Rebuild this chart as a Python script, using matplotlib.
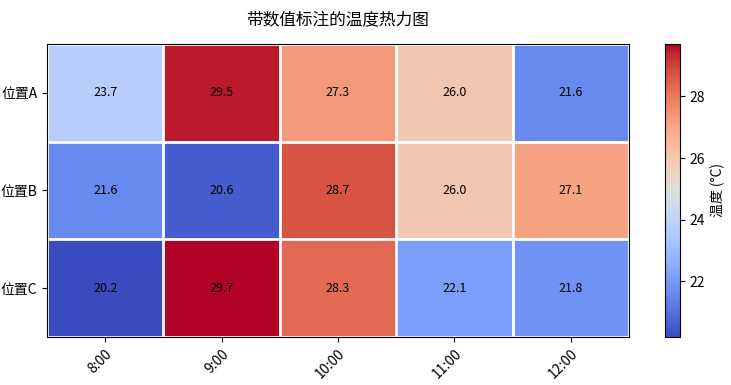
import numpy as np
import matplotlib
matplotlib.use("Agg")
import matplotlib.pyplot as plt

plt.rcParams['font.family'] = ['Noto Sans CJK SC', 'DejaVu Sans']

locations = ["位置A", "位置B", "位置C"]
times = ["8:00", "9:00", "10:00", "11:00", "12:00"]
temps_a = [23.7, 29.5, 27.3, 26.0, 21.6]
temps_b = [21.6, 20.6, 28.7, 26.0, 27.1]
temps_c = [20.2, 29.7, 28.3, 22.1, 21.8]

data = np.array([temps_a, temps_b, temps_c])

fig = plt.figure(figsize=(7.31, 3.85), dpi=100)
ax = fig.add_axes([0.0643, 0.1247, 0.796, 0.761])
cax = fig.add_axes([0.9097, 0.1247, 0.0205, 0.761])

im = ax.imshow(data, cmap="coolwarm", aspect="auto")

ax.set_xticks(np.arange(len(times)))
ax.set_xticklabels(times, rotation=45, ha="right", rotation_mode="anchor")
ax.set_yticks(np.arange(len(locations)))
ax.set_yticklabels(locations)
ax.tick_params(labelsize=10)

ax.set_xticks(np.arange(len(times) + 1) - 0.5, minor=True)
ax.set_yticks(np.arange(len(locations) + 1) - 0.5, minor=True)
ax.grid(which="minor", color="white", linestyle="-", linewidth=2)
ax.tick_params(which="minor", bottom=False, left=False)

for i in range(len(locations)):
    for j in range(len(times)):
        ax.text(j, i, f"{data[i, j]:.1f}", ha="center", va="center",
                color="black", fontsize=9)

ax.set_title("带数值标注的温度热力图", fontsize=12, pad=14)

cbar = fig.colorbar(im, cax=cax)
cbar.set_label("温度 (°C)", fontsize=10)
cbar.ax.tick_params(labelsize=10)

fig.savefig("out.png", dpi=100)
